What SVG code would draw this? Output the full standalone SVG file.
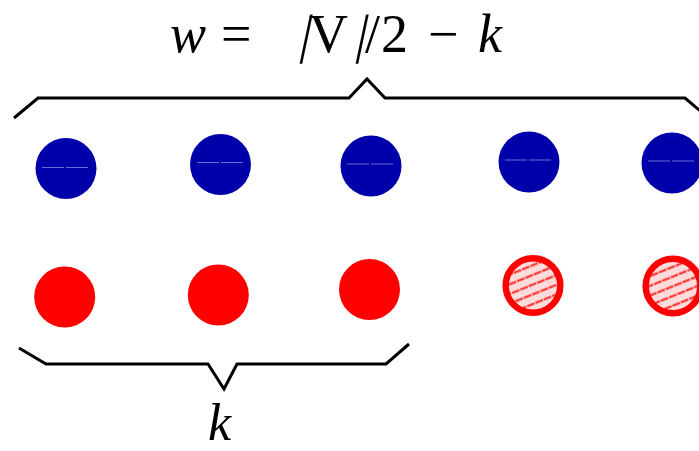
<svg xmlns="http://www.w3.org/2000/svg" width="699" height="451" viewBox="0 0 699 451">
<style>
.blue{fill:#0000aa}
.red{fill:#ff0000}
.hatch{fill:url(#hatch);stroke:#ff0000;stroke-width:6.5}
.brace{fill:none;stroke:#000;stroke-width:3;stroke-linejoin:miter}
.art{stroke:#6a6ad0;stroke-width:1;fill:none;stroke-dasharray:22 2}
.math{font-family:"Liberation Serif","Times New Roman",serif;fill:#000}
.it{font-style:italic}
</style>
<defs>
<pattern id="hatch" patternUnits="userSpaceOnUse" width="9" height="9" patternTransform="rotate(-22)">
<rect width="9" height="9" fill="#ffdcdc"/>
<line x1="0" y1="4.5" x2="9" y2="4.5" stroke="#ff2020" stroke-width="2" stroke-dasharray="4 1"/>
</pattern>
</defs>
<g id="label-w">
<text class="math it" font-size="54" x="170" y="52">w</text>
<text class="math" font-size="54" x="221" y="52">=</text>
<text class="math" font-size="54" x="309" y="52">V</text>
<text class="math" font-size="54" transform="translate(298,52) skewX(-12)" x="0" y="0">|</text>
<text class="math" font-size="54" transform="translate(354,52) skewX(-12)" x="0" y="0">|</text>
<text class="math" font-size="54" x="365" y="52">/</text>
<text class="math" font-size="54" x="381" y="52">2</text>
<text class="math" font-size="54" x="428" y="52">−</text>
<text class="math it" font-size="54" x="478" y="52">k</text>
</g>
<g id="connectors">
<polyline class="brace" points="14,118 38,98 349,98 367,79 385,98 685,98 705,115"/>
<polyline class="brace" points="19,348 46,364 208,364 224,389 237,364 386,364 409,344"/>
</g>
<g id="blue-1"><circle class="blue" cx="66" cy="168.5" r="30.5"/><line class="art" x1="42" y1="167.5" x2="90" y2="167.5"/></g>
<g id="blue-2"><circle class="blue" cx="220.5" cy="164.5" r="30.5"/><line class="art" x1="197" y1="162.5" x2="245" y2="162.5"/></g>
<g id="blue-3"><circle class="blue" cx="371" cy="166" r="30.5"/><line class="art" x1="347" y1="164" x2="395" y2="164"/></g>
<g id="blue-4"><circle class="blue" cx="529" cy="162" r="30.5"/><line class="art" x1="505" y1="160" x2="553" y2="160"/></g>
<g id="blue-5"><circle class="blue" cx="672" cy="163" r="30.5"/><line class="art" x1="648" y1="161" x2="696" y2="161"/></g>
<g id="red-1"><circle class="red" cx="64.7" cy="297" r="30.5"/></g>
<g id="red-2"><circle class="red" cx="218.3" cy="295" r="30.5"/></g>
<g id="red-3"><circle class="red" cx="369.5" cy="289.5" r="30.5"/></g>
<g id="red-4"><circle class="hatch" cx="533" cy="285.5" r="27.3"/></g>
<g id="red-5"><circle class="hatch" cx="673" cy="286" r="27.3"/></g>
<g id="label-k">
<text class="math it" font-size="52" x="208" y="440">k</text>
</g>
</svg>
